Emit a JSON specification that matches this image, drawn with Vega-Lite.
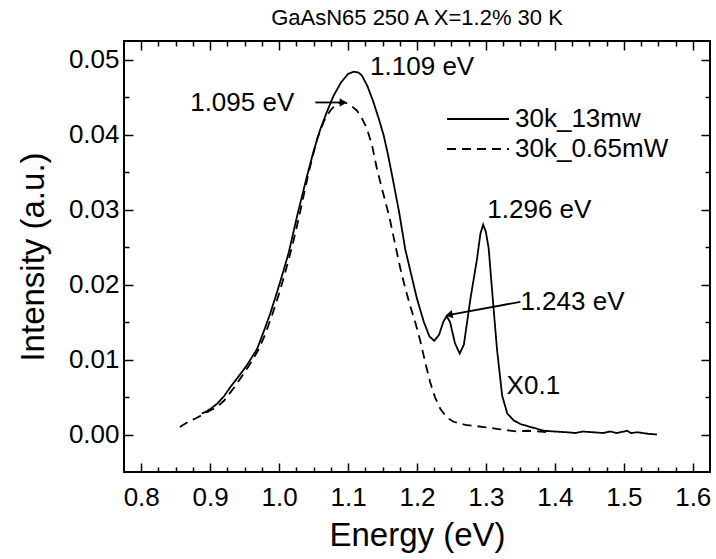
{
  "$schema": "https://vega.github.io/schema/vega-lite/v6.json",
  "width": 586,
  "height": 431,
  "autosize": {"type": "none"},
  "padding": {"left": 124, "top": 41, "right": 6, "bottom": 87},
  "title": {"text": "GaAsN65 250 A X=1.2% 30 K", "fontSize": 22, "font": "Liberation Sans", "fontWeight": "normal", "color": "black", "offset": 10},
  "config": {
    "view": {"stroke": "black", "strokeWidth": 2},
    "font": "Liberation Sans",
    "axis": {"grid": false, "domain": false, "tickColor": "black", "tickWidth": 1.5, "labelColor": "black", "titleColor": "black", "labelFont": "Liberation Sans", "titleFont": "Liberation Sans", "labelFontSize": 26, "titleFontSize": 33, "titleFontWeight": "normal", "labelOverlap": false, "labelFlush": false}
  },
  "datasets": {
    "curves": [
      {"series": "30k_13mw", "E": 0.888, "I": 0.0028},
      {"series": "30k_13mw", "E": 0.895, "I": 0.0031},
      {"series": "30k_13mw", "E": 0.9, "I": 0.0034},
      {"series": "30k_13mw", "E": 0.91, "I": 0.0041},
      {"series": "30k_13mw", "E": 0.92, "I": 0.0051},
      {"series": "30k_13mw", "E": 0.929, "I": 0.0063},
      {"series": "30k_13mw", "E": 0.94, "I": 0.0076},
      {"series": "30k_13mw", "E": 0.953, "I": 0.0092},
      {"series": "30k_13mw", "E": 0.968, "I": 0.0114},
      {"series": "30k_13mw", "E": 0.9775, "I": 0.0137},
      {"series": "30k_13mw", "E": 0.987, "I": 0.0161},
      {"series": "30k_13mw", "E": 0.997, "I": 0.019},
      {"series": "30k_13mw", "E": 1.0065, "I": 0.0219},
      {"series": "30k_13mw", "E": 1.014, "I": 0.0243},
      {"series": "30k_13mw", "E": 1.027, "I": 0.0295},
      {"series": "30k_13mw", "E": 1.0405, "I": 0.0345},
      {"series": "30k_13mw", "E": 1.05, "I": 0.0378},
      {"series": "30k_13mw", "E": 1.06, "I": 0.0408},
      {"series": "30k_13mw", "E": 1.07, "I": 0.0432},
      {"series": "30k_13mw", "E": 1.079, "I": 0.0452},
      {"series": "30k_13mw", "E": 1.09, "I": 0.047},
      {"series": "30k_13mw", "E": 1.1, "I": 0.0481},
      {"series": "30k_13mw", "E": 1.108, "I": 0.0484},
      {"series": "30k_13mw", "E": 1.115, "I": 0.0483},
      {"series": "30k_13mw", "E": 1.12, "I": 0.0479},
      {"series": "30k_13mw", "E": 1.128, "I": 0.0465},
      {"series": "30k_13mw", "E": 1.137, "I": 0.0443},
      {"series": "30k_13mw", "E": 1.145, "I": 0.042},
      {"series": "30k_13mw", "E": 1.1517, "I": 0.0399},
      {"series": "30k_13mw", "E": 1.158, "I": 0.0373},
      {"series": "30k_13mw", "E": 1.164, "I": 0.0345},
      {"series": "30k_13mw", "E": 1.174, "I": 0.0297},
      {"series": "30k_13mw", "E": 1.183, "I": 0.0247},
      {"series": "30k_13mw", "E": 1.192, "I": 0.0212},
      {"series": "30k_13mw", "E": 1.2, "I": 0.0181},
      {"series": "30k_13mw", "E": 1.21, "I": 0.015},
      {"series": "30k_13mw", "E": 1.218, "I": 0.0131},
      {"series": "30k_13mw", "E": 1.225, "I": 0.0125},
      {"series": "30k_13mw", "E": 1.232, "I": 0.0133},
      {"series": "30k_13mw", "E": 1.238, "I": 0.015},
      {"series": "30k_13mw", "E": 1.243, "I": 0.0158},
      {"series": "30k_13mw", "E": 1.248, "I": 0.015},
      {"series": "30k_13mw", "E": 1.255, "I": 0.0122},
      {"series": "30k_13mw", "E": 1.262, "I": 0.0108},
      {"series": "30k_13mw", "E": 1.268, "I": 0.012},
      {"series": "30k_13mw", "E": 1.2775, "I": 0.0181},
      {"series": "30k_13mw", "E": 1.287, "I": 0.0234},
      {"series": "30k_13mw", "E": 1.292, "I": 0.0268},
      {"series": "30k_13mw", "E": 1.296, "I": 0.028},
      {"series": "30k_13mw", "E": 1.3, "I": 0.027},
      {"series": "30k_13mw", "E": 1.304, "I": 0.0248},
      {"series": "30k_13mw", "E": 1.31, "I": 0.018},
      {"series": "30k_13mw", "E": 1.316, "I": 0.0114},
      {"series": "30k_13mw", "E": 1.3235, "I": 0.0052},
      {"series": "30k_13mw", "E": 1.331, "I": 0.0028},
      {"series": "30k_13mw", "E": 1.34, "I": 0.0019},
      {"series": "30k_13mw", "E": 1.35, "I": 0.0014},
      {"series": "30k_13mw", "E": 1.365, "I": 0.001},
      {"series": "30k_13mw", "E": 1.384, "I": 0.0005},
      {"series": "30k_13mw", "E": 1.4, "I": 0.0004},
      {"series": "30k_13mw", "E": 1.418, "I": 0.0003},
      {"series": "30k_13mw", "E": 1.43, "I": 0.0002},
      {"series": "30k_13mw", "E": 1.44, "I": 0.0004},
      {"series": "30k_13mw", "E": 1.456, "I": 0.0003},
      {"series": "30k_13mw", "E": 1.47, "I": 0.0002},
      {"series": "30k_13mw", "E": 1.48, "I": 0.0004},
      {"series": "30k_13mw", "E": 1.49, "I": 0.0002},
      {"series": "30k_13mw", "E": 1.505, "I": 0.0005},
      {"series": "30k_13mw", "E": 1.51, "I": 0.0002},
      {"series": "30k_13mw", "E": 1.52, "I": 0.0003},
      {"series": "30k_13mw", "E": 1.535, "I": 0.0001},
      {"series": "30k_13mw", "E": 1.548, "I": 0.0},
      {"series": "30k_0.65mW", "E": 0.856, "I": 0.001},
      {"series": "30k_0.65mW", "E": 0.87, "I": 0.0018},
      {"series": "30k_0.65mW", "E": 0.88, "I": 0.0022},
      {"series": "30k_0.65mW", "E": 0.89, "I": 0.0027},
      {"series": "30k_0.65mW", "E": 0.9, "I": 0.0032},
      {"series": "30k_0.65mW", "E": 0.91, "I": 0.0037},
      {"series": "30k_0.65mW", "E": 0.92, "I": 0.0045},
      {"series": "30k_0.65mW", "E": 0.935, "I": 0.0063},
      {"series": "30k_0.65mW", "E": 0.95, "I": 0.0083},
      {"series": "30k_0.65mW", "E": 0.96, "I": 0.0097},
      {"series": "30k_0.65mW", "E": 0.97, "I": 0.0113},
      {"series": "30k_0.65mW", "E": 0.98, "I": 0.0134},
      {"series": "30k_0.65mW", "E": 0.99, "I": 0.016},
      {"series": "30k_0.65mW", "E": 1.0, "I": 0.0188},
      {"series": "30k_0.65mW", "E": 1.01, "I": 0.022},
      {"series": "30k_0.65mW", "E": 1.02, "I": 0.0255},
      {"series": "30k_0.65mW", "E": 1.03, "I": 0.0295},
      {"series": "30k_0.65mW", "E": 1.043, "I": 0.035},
      {"series": "30k_0.65mW", "E": 1.055, "I": 0.0394},
      {"series": "30k_0.65mW", "E": 1.065, "I": 0.0418},
      {"series": "30k_0.65mW", "E": 1.074, "I": 0.0432},
      {"series": "30k_0.65mW", "E": 1.082, "I": 0.044},
      {"series": "30k_0.65mW", "E": 1.089, "I": 0.0443},
      {"series": "30k_0.65mW", "E": 1.095, "I": 0.0443},
      {"series": "30k_0.65mW", "E": 1.103, "I": 0.044},
      {"series": "30k_0.65mW", "E": 1.113, "I": 0.0432},
      {"series": "30k_0.65mW", "E": 1.12, "I": 0.0422},
      {"series": "30k_0.65mW", "E": 1.1275, "I": 0.0408},
      {"series": "30k_0.65mW", "E": 1.135, "I": 0.0385},
      {"series": "30k_0.65mW", "E": 1.142, "I": 0.0354},
      {"series": "30k_0.65mW", "E": 1.15, "I": 0.0325},
      {"series": "30k_0.65mW", "E": 1.16, "I": 0.029},
      {"series": "30k_0.65mW", "E": 1.168, "I": 0.0255},
      {"series": "30k_0.65mW", "E": 1.176, "I": 0.0221},
      {"series": "30k_0.65mW", "E": 1.183, "I": 0.0195},
      {"series": "30k_0.65mW", "E": 1.19, "I": 0.0172},
      {"series": "30k_0.65mW", "E": 1.198, "I": 0.0148},
      {"series": "30k_0.65mW", "E": 1.205, "I": 0.0124},
      {"series": "30k_0.65mW", "E": 1.212, "I": 0.0096},
      {"series": "30k_0.65mW", "E": 1.219, "I": 0.007},
      {"series": "30k_0.65mW", "E": 1.226, "I": 0.005},
      {"series": "30k_0.65mW", "E": 1.234, "I": 0.0034},
      {"series": "30k_0.65mW", "E": 1.243, "I": 0.0023},
      {"series": "30k_0.65mW", "E": 1.253, "I": 0.0017},
      {"series": "30k_0.65mW", "E": 1.27, "I": 0.0013},
      {"series": "30k_0.65mW", "E": 1.297, "I": 0.001},
      {"series": "30k_0.65mW", "E": 1.32, "I": 0.0007},
      {"series": "30k_0.65mW", "E": 1.345, "I": 0.0004},
      {"series": "30k_0.65mW", "E": 1.36, "I": 0.0005},
      {"series": "30k_0.65mW", "E": 1.379, "I": 0.0004},
      {"series": "30k_0.65mW", "E": 1.39, "I": 0.0003}
    ],
    "labels": [
      {"E": 1.132, "I": 0.0490, "text": "1.109 eV"},
      {"E": 0.871, "I": 0.0442, "text": "1.095 eV"},
      {"E": 1.302, "I": 0.0300, "text": "1.296 eV"},
      {"E": 1.350, "I": 0.0177, "text": "1.243 eV"},
      {"E": 1.330, "I": 0.0065, "text": "X0.1"}
    ],
    "arrows": [
      {"id": "a", "E": 1.0525, "I": 0.0443},
      {"id": "a", "E": 1.092, "I": 0.0443},
      {"id": "b", "E": 1.350, "I": 0.0177},
      {"id": "b", "E": 1.249, "I": 0.0160}
    ],
    "heads": [
      {"id": "a", "E": 1.093, "I": 0.0443},
      {"id": "b", "E": 1.2465, "I": 0.01595}
    ]
  },
  "layer": [
    {
      "data": {"name": "curves"},
      "mark": {"type": "line", "color": "black", "strokeWidth": 1.8},
      "encoding": {
        "x": {"field": "E", "type": "quantitative", "scale": {"domain": [0.775, 1.625], "nice": false, "zero": false},
          "axis": {"orient": "bottom", "title": "Energy (eV)",
            "values": [0.8, 0.825, 0.85, 0.875, 0.9, 0.925, 0.95, 0.975, 1.0, 1.025, 1.05, 1.075, 1.1, 1.125, 1.15, 1.175, 1.2, 1.225, 1.25, 1.275, 1.3, 1.325, 1.35, 1.375, 1.4, 1.425, 1.45, 1.475, 1.5, 1.525, 1.55, 1.575, 1.6],
            "labelExpr": "abs(datum.value*10 - round(datum.value*10)) < 0.01 ? format(datum.value, '.1f') : ''",
            "tickSize": {"condition": {"test": "abs(datum.value*10 - round(datum.value*10)) < 0.01", "value": -9}, "value": -5},
            "labelPadding": 21, "titlePadding": 5}},
        "y": {"field": "I", "type": "quantitative", "scale": {"domain": [-0.005, 0.0525], "nice": false, "zero": false},
          "axis": {"orient": "left", "title": "Intensity (a.u.)",
            "values": [0, 0.005, 0.01, 0.015, 0.02, 0.025, 0.03, 0.035, 0.04, 0.045, 0.05],
            "labelExpr": "abs(datum.value*100 - round(datum.value*100)) < 0.01 ? format(datum.value, '.2f') : ''",
            "tickSize": {"condition": {"test": "abs(datum.value*100 - round(datum.value*100)) < 0.01", "value": -9}, "value": -5},
            "labelPadding": 14, "titlePadding": 18}},
        "strokeDash": {"field": "series", "type": "nominal",
          "scale": {"domain": ["30k_13mw", "30k_0.65mW"], "range": [[1, 0], [9, 6]]},
          "legend": {"orient": "none", "legendX": 322, "legendY": 63, "title": null, "symbolType": "stroke", "symbolSize": 3844, "symbolStrokeWidth": 1.8, "symbolStrokeColor": "black", "labelFontSize": 26, "labelFont": "Liberation Sans", "labelColor": "black", "labelOffset": 5, "rowPadding": 0, "clipHeight": 30}},
        "detail": {"field": "series"}
      }
    },
    {
      "data": {"name": "labels"},
      "mark": {"type": "text", "align": "left", "baseline": "middle", "fontSize": 26, "font": "Liberation Sans", "color": "black"},
      "encoding": {
        "x": {"field": "E", "type": "quantitative", "scale": {"domain": [0.775, 1.625], "nice": false, "zero": false},
          "axis": {"orient": "top", "title": null, "labels": false,
            "values": [0.8, 0.825, 0.85, 0.875, 0.9, 0.925, 0.95, 0.975, 1.0, 1.025, 1.05, 1.075, 1.1, 1.125, 1.15, 1.175, 1.2, 1.225, 1.25, 1.275, 1.3, 1.325, 1.35, 1.375, 1.4, 1.425, 1.45, 1.475, 1.5, 1.525, 1.55, 1.575, 1.6],
            "tickSize": {"condition": {"test": "abs(datum.value*10 - round(datum.value*10)) < 0.01", "value": -9}, "value": -5}}},
        "y": {"field": "I", "type": "quantitative", "scale": {"domain": [-0.005, 0.0525], "nice": false, "zero": false},
          "axis": {"orient": "right", "title": null, "labels": false,
            "values": [0, 0.005, 0.01, 0.015, 0.02, 0.025, 0.03, 0.035, 0.04, 0.045, 0.05],
            "tickSize": {"condition": {"test": "abs(datum.value*100 - round(datum.value*100)) < 0.01", "value": -9}, "value": -5}}},
        "text": {"field": "text"}
      }
    },
    {
      "data": {"name": "arrows"},
      "mark": {"type": "line", "color": "black", "strokeWidth": 1.8},
      "encoding": {
        "x": {"field": "E", "type": "quantitative", "scale": {"domain": [0.775, 1.625], "nice": false, "zero": false}, "axis": null},
        "y": {"field": "I", "type": "quantitative", "scale": {"domain": [-0.005, 0.0525], "nice": false, "zero": false}, "axis": null},
        "detail": {"field": "id"}
      }
    },
    {
      "data": {"name": "heads"},
      "transform": [{"filter": "datum.id == 'a'"}],
      "mark": {"type": "point", "shape": "triangle-right", "filled": true, "color": "black", "size": 70, "opacity": 1},
      "encoding": {
        "x": {"field": "E", "type": "quantitative", "scale": {"domain": [0.775, 1.625], "nice": false, "zero": false}, "axis": null},
        "y": {"field": "I", "type": "quantitative", "scale": {"domain": [-0.005, 0.0525], "nice": false, "zero": false}, "axis": null}
      }
    },
    {
      "data": {"name": "heads"},
      "transform": [{"filter": "datum.id == 'b'"}],
      "mark": {"type": "point", "shape": "triangle-left", "filled": true, "color": "black", "size": 70, "opacity": 1, "angle": 348},
      "encoding": {
        "x": {"field": "E", "type": "quantitative", "scale": {"domain": [0.775, 1.625], "nice": false, "zero": false}, "axis": null},
        "y": {"field": "I", "type": "quantitative", "scale": {"domain": [-0.005, 0.0525], "nice": false, "zero": false}, "axis": null}
      }
    }
  ],
  "resolve": {"axis": {"x": "independent", "y": "independent"}}
}
